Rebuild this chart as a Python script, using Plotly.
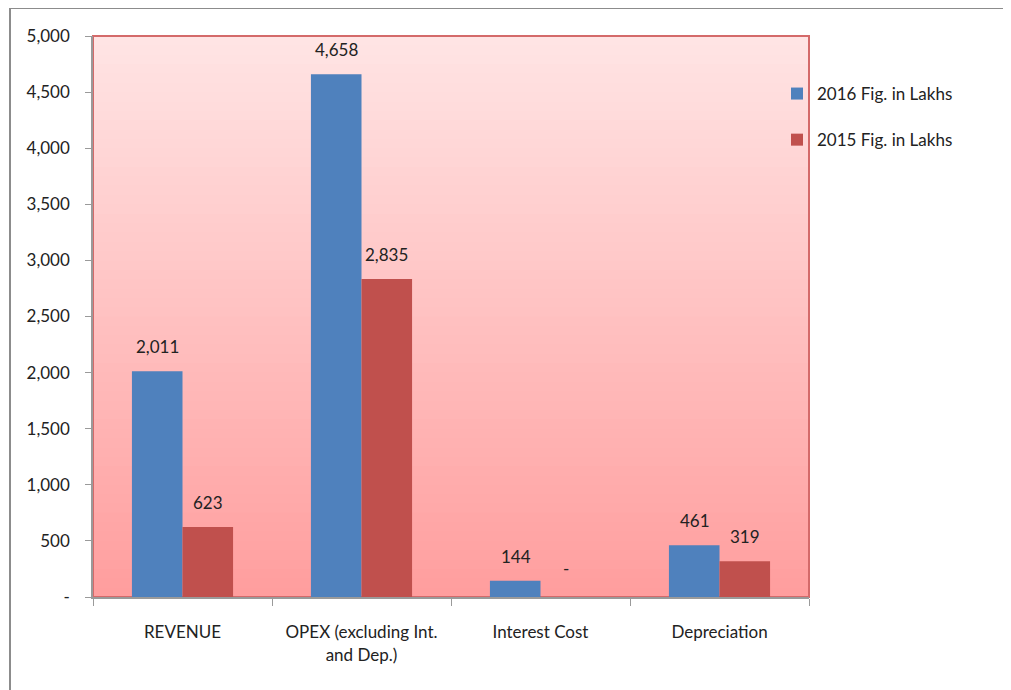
import plotly.graph_objects as go

categories = ["REVENUE", "OPEX (excluding Int.<br>and Dep.)", "Interest Cost", "Depreciation"]
values_2016 = [2011, 4658, 144, 461]
values_2015 = [623, 2835, 0, 319]
series_names = ["2016 Fig. in Lakhs", "2015 Fig. in Lakhs"]
ytick_vals = [0, 500, 1000, 1500, 2000, 2500, 3000, 3500, 4000, 4500, 5000]
ytick_text = ["-", "500", "1,000", "1,500", "2,000", "2,500", "3,000", "3,500", "4,000", "4,500", "5,000"]


def fmt(v):
    return "-" if v == 0 else f"{v:,}"


FONT = "Lato, 'Noto Sans', sans-serif"
TXT = "#222"
fig = go.Figure()
fig.add_trace(go.Bar(x=categories, y=values_2016, name=series_names[0], legendgroup="a",
                     marker=dict(color="#4F81BD", line=dict(width=0))))
fig.add_trace(go.Bar(x=categories, y=values_2015, name=series_names[1], legendgroup="b",
                     marker=dict(color="#C0504D", line=dict(width=0))))

# data labels
for vals, shift in ((values_2016, -25), (values_2015, 25)):
    for c, v in zip(categories, vals):
        fig.add_annotation(x=c, y=v, xref="x", yref="y", text=fmt(v), showarrow=False,
                           xshift=shift, yshift=12 if v else 16, yanchor="bottom",
                           font=dict(size=17, color=TXT, family=FONT))

# gradient background in plot area
n = 60
top = (255, 228, 228)
bot = (255, 158, 158)
for i in range(n):
    t = i / (n - 1)
    c = tuple(round(bot[k] + (top[k] - bot[k]) * t) for k in range(3))
    fig.add_shape(type="rect", xref="x domain", yref="y domain", x0=0, x1=1,
                  y0=i / n, y1=min(1, (i + 2) / n), fillcolor=f"rgb{c}", line=dict(width=0), layer="below")
# red plot border
fig.add_shape(type="rect", xref="x domain", yref="y domain", x0=0, x1=1, y0=0, y1=1,
              line=dict(color="#D46A6A", width=2), layer="below")
# outer chart border (left and top)
fig.add_shape(type="line", xref="paper", yref="paper", x0=(10 - 93) / 716, x1=(10 - 93) / 716,
              y0=(597 - 8) / 561, y1=(597 - 700) / 561, line=dict(color="#8c8c8c", width=2))
fig.add_shape(type="line", xref="paper", yref="paper", x0=(10 - 93) / 716, x1=(1020 - 93) / 716,
              y0=(597 - 8) / 561, y1=(597 - 8) / 561, line=dict(color="#8c8c8c", width=2))

fig.update_layout(
    width=1003, height=682,
    margin=dict(l=85, r=202, t=28, b=93),
    paper_bgcolor="white", plot_bgcolor="rgba(0,0,0,0)",
    barmode="group", bargap=0.435, bargroupgap=0,
    font=dict(family=FONT, size=17, color=TXT),
    showlegend=True,
    legend=dict(x=(777 - 93) / 716, xanchor="left", y=(597 - 76) / 561, yanchor="top",
                traceorder="grouped", tracegroupgap=21, bgcolor="rgba(0,0,0,0)",
                font=dict(size=17, color=TXT)),
)
fig.update_xaxes(showline=True, linecolor="#9a9a9a", linewidth=2, ticks="outside",
                 tickson="boundaries", ticklen=7, tickcolor="#9a9a9a", showgrid=False,
                 tickfont=dict(size=17, color=TXT), ticklabelstandoff=19)
fig.update_yaxes(range=[0, 5000], tickvals=ytick_vals, ticktext=ytick_text, showline=True,
                 linecolor="#9a9a9a", linewidth=1.5, ticks="outside", ticklen=6, tickcolor="#9a9a9a",
                 showgrid=False, zeroline=False, tickfont=dict(size=17, color=TXT), ticklabelstandoff=12)

fig.write_html("out.html")
